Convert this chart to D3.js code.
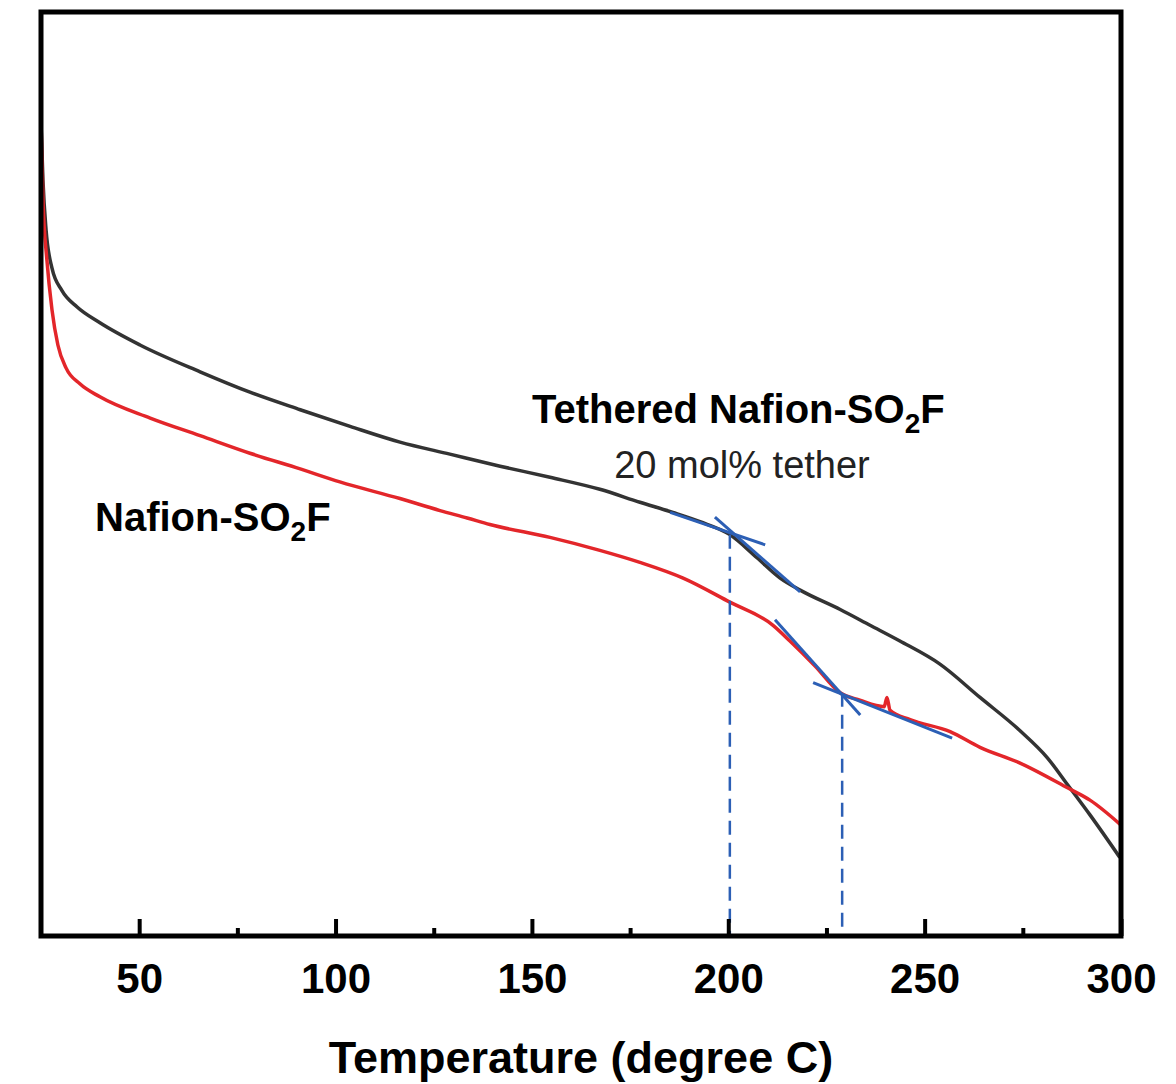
<!DOCTYPE html>
<html lang="en">
<head>
<meta charset="utf-8">
<title>TGA tethered Nafion</title>
<script type="text/javascript" src="https://d3js.org/d3.v7.min.js"></script>
<style>
body { margin:0; background:#ffffff; }
text { font-family: Arial, "Liberation Sans", Helvetica, sans-serif; }
</style>
</head>
<body>
<div id="container"></div>
<script type="text/javascript">
// temperature (degree C)
var tetheredT = [25.0, 25.5, 26.3, 27.8, 30.3, 34.2, 40.0, 50.2, 65.5, 78.2, 91.0, 103.7, 116.4, 129.1, 141.9, 154.6, 167.3, 177.5, 185.9, 192.8, 200.4, 207.3, 213.2, 218.3, 228.5, 236.1, 243.7, 253.9, 264.1, 274.3, 281.2, 286.5, 292.1, 299.7];
// signal, arbitrary units (no y labels in the figure)
var tetheredV = [88.1, 81.8, 76.4, 72.3, 69.9, 68.1, 66.4, 64.0, 61.1, 58.9, 57.0, 55.2, 53.5, 52.2, 50.9, 49.7, 48.4, 47.0, 45.9, 44.9, 43.5, 41.0, 38.8, 37.5, 35.4, 33.7, 32.0, 29.5, 25.9, 22.3, 19.4, 16.4, 13.2, 8.6];

var nafionT = [25.0, 25.5, 26.5, 27.8, 29.3, 31.4, 34.9, 40.0, 52.8, 65.5, 78.2, 91.0, 101.1, 116.4, 126.6, 133.5, 139.3, 154.6, 167.3, 177.5, 188.5, 200.4, 211.4, 215.7, 222.1, 228.5, 233.5, 239.7, 240.4, 241.2, 246.3, 256.5, 264.1, 274.3, 286.5, 292.1, 300.0];
var nafionV = [88.1, 79.7, 73.2, 67.8, 64.0, 61.5, 59.8, 58.4, 56.1, 54.2, 52.3, 50.6, 49.2, 47.4, 46.1, 45.3, 44.6, 43.2, 41.8, 40.5, 38.8, 36.2, 33.7, 32.0, 29.3, 26.4, 25.6, 24.9, 25.9, 24.5, 23.5, 22.2, 20.5, 18.8, 16.1, 14.8, 12.1];

// onset tangents [[T1,v1],[T2,v2]]
var tangents = [
  [[185.2, 45.9], [209.4, 42.4]],
  [[196.6, 45.4], [218.3, 37.3]],
  [[211.9, 34.3], [233.6, 24.0]],
  [[221.6, 27.5], [257.0, 21.5]]
];
var onsetT = [200.4, 229.0];
var onsetV = [43.5, 26.4];

var majorTicks = [50, 100, 150, 200, 250, 300];
var minorTicks = [75, 125, 175, 225, 275];

var w = 1176;
var h = 1084;
var plotL = 41, plotR = 1121, plotT = 12, plotB = 936;

var svg = d3.select("div#container").append("svg")
    .attr("width", w).attr("height", h)
    .style("background-color", "#ffffff");

var x = d3.scaleLinear().domain([25, 300]).range([plotL, plotR]);
var y = d3.scaleLinear().domain([0, 100]).range([937, plotT]);

var line = d3.line()
    .x(function(d) { return x(d[0]); })
    .y(function(d) { return y(d[1]); })
    .curve(d3.curveMonotoneX);

var nafionData = nafionT.map(function(t, i) { return [t, nafionV[i]]; });
var tetheredData = tetheredT.map(function(t, i) { return [t, tetheredV[i]]; });

svg.append("path").datum(tetheredData)
    .attr("d", line)
    .attr("fill", "none")
    .attr("stroke", "#333333")
    .attr("stroke-width", 3.5)
    .attr("stroke-linejoin", "round");

svg.append("path").datum(nafionData)
    .attr("d", line)
    .attr("fill", "none")
    .attr("stroke", "#e3262a")
    .attr("stroke-width", 3.5)
    .attr("stroke-linejoin", "round");

// tangent lines
svg.selectAll("line.tangent")
    .data(tangents)
    .enter()
    .append("line")
    .attr("class", "tangent")
    .attr("x1", function(d) { return x(d[0][0]); })
    .attr("y1", function(d) { return y(d[0][1]); })
    .attr("x2", function(d) { return x(d[1][0]); })
    .attr("y2", function(d) { return y(d[1][1]); })
    .attr("stroke", "#2c5fb5")
    .attr("stroke-width", 3);

// dashed drop lines to the axis
svg.selectAll("line.onset")
    .data(onsetT)
    .enter()
    .append("line")
    .attr("class", "onset")
    .attr("x1", function(d) { return x(d); })
    .attr("x2", function(d) { return x(d); })
    .attr("y1", function(d, i) { return y(onsetV[i]); })
    .attr("y2", plotB)
    .attr("stroke", "#2c5fb5")
    .attr("stroke-width", 2.5)
    .attr("stroke-dasharray", "14,8");

// frame
svg.append("rect")
    .attr("x", plotL).attr("y", plotT)
    .attr("width", plotR - plotL).attr("height", plotB - plotT)
    .attr("fill", "none")
    .attr("stroke", "#000000")
    .attr("stroke-width", 5);

// x axis, ticks pointing inward
var xAxis = d3.axisBottom(x).tickValues(majorTicks).tickSize(-17).tickPadding(0).tickSizeOuter(0);
var gx = svg.append("g").attr("transform", "translate(0," + plotB + ")").call(xAxis);
gx.select(".domain").remove();
gx.selectAll(".tick line").attr("stroke", "#000").attr("stroke-width", 4);
gx.selectAll(".tick text")
    .attr("y", 57).attr("dy", 0)
    .attr("fill", "#000")
    .style("font-size", "42px")
    .style("font-weight", "bold");

var gxMinor = svg.append("g").attr("transform", "translate(0," + plotB + ")")
    .call(d3.axisBottom(x).tickValues(minorTicks).tickSize(-8).tickFormat("").tickSizeOuter(0));
gxMinor.select(".domain").remove();
gxMinor.selectAll(".tick line").attr("stroke", "#000").attr("stroke-width", 4);

// axis title
svg.append("text")
    .attr("x", (plotL + plotR) / 2)
    .attr("y", 1073)
    .attr("text-anchor", "middle")
    .style("font-size", "45px")
    .style("font-weight", "bold")
    .text("Temperature (degree C)");

// labels
function chemLabel(xPos, yPos, anchor) {
  var t = svg.append("text")
      .attr("x", xPos).attr("y", yPos)
      .attr("text-anchor", anchor)
      .style("font-size", "40px")
      .style("font-weight", "bold");
  return t;
}

var lab1 = chemLabel(532, 423, "start");
lab1.append("tspan").text("Tethered Nafion-SO");
lab1.append("tspan").attr("dy", 10).style("font-size", "28px").text("2");
lab1.append("tspan").attr("dy", -10).text("F");

svg.append("text")
    .attr("x", 742).attr("y", 478)
    .attr("text-anchor", "middle")
    .style("font-size", "38px")
    .style("fill", "#222")
    .text("20 mol% tether");

var lab2 = chemLabel(95, 531, "start");
lab2.append("tspan").text("Nafion-SO");
lab2.append("tspan").attr("dy", 10).style("font-size", "28px").text("2");
lab2.append("tspan").attr("dy", -10).text("F");
</script>
</body>
</html>
